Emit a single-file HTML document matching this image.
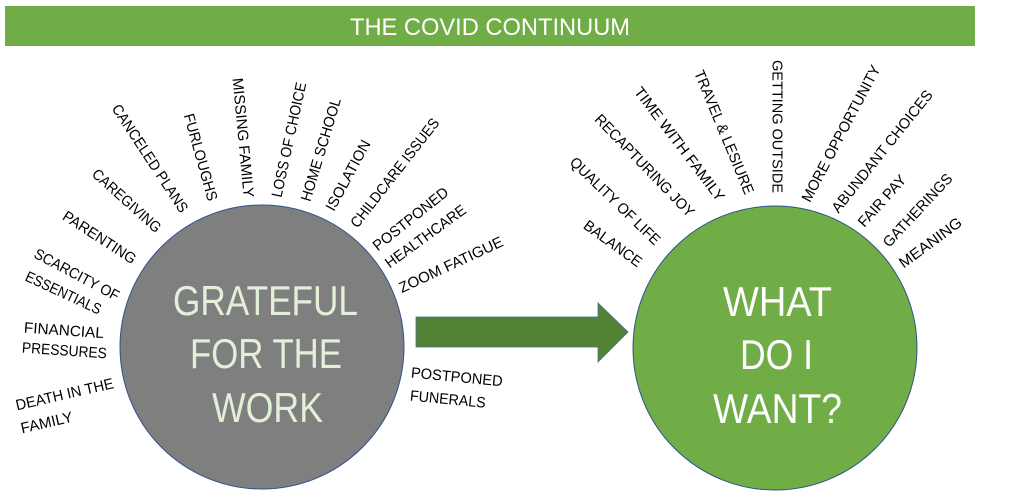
<!DOCTYPE html>
<html>
<head>
<meta charset="utf-8">
<style>
  html, body { margin: 0; padding: 0; background: #ffffff; }
  svg { display: block; }
  .lbl { font-family: "Liberation Sans", sans-serif; font-size: 15px; fill: #000; }
  .big { font-family: "Liberation Sans", sans-serif; font-size: 42px; }
</style>
</head>
<body>
<svg width="1023" height="491" viewBox="0 0 1023 491" xmlns="http://www.w3.org/2000/svg">
  <rect x="0" y="0" width="1023" height="491" fill="#ffffff"/>

  <!-- Title bar -->
  <rect x="5" y="6" width="970" height="40" fill="#70ad47"/>
  <text x="350" y="35" font-family="Liberation Sans, sans-serif" font-size="24" fill="#ffffff" textLength="280" lengthAdjust="spacingAndGlyphs">THE COVID CONTINUUM</text>

  <!-- Left circle -->
  <circle cx="262" cy="347" r="142" fill="#7f7f7f" stroke="#2f528f" stroke-width="1"/>
  <g class="big" fill="#e2f0d9">
    <text x="173" y="315" textLength="185" lengthAdjust="spacingAndGlyphs">GRATEFUL</text>
    <text x="190" y="368" textLength="152" lengthAdjust="spacingAndGlyphs">FOR THE</text>
    <text x="212" y="422" textLength="111" lengthAdjust="spacingAndGlyphs">WORK</text>
  </g>

  <!-- Right circle -->
  <circle cx="775" cy="348" r="142" fill="#70ad47" stroke="#2f528f" stroke-width="1"/>
  <g class="big" fill="#ffffff">
    <text x="723" y="316" textLength="109" lengthAdjust="spacingAndGlyphs">WHAT</text>
    <text x="740" y="369" textLength="73" lengthAdjust="spacingAndGlyphs">DO I</text>
    <text x="713" y="423" textLength="129" lengthAdjust="spacingAndGlyphs">WANT?</text>
  </g>

  <!-- Arrow -->
  <polygon points="416,317 598,317 598,303 628,332 598,362 598,347 416,347" fill="#548235" stroke="#41719c" stroke-width="0.8"/>

  <!-- Left circle labels: inward -->
  <g class="lbl" dominant-baseline="central">
    <text transform="translate(237,78) rotate(84.6)" textLength="120" lengthAdjust="spacingAndGlyphs">MISSING FAMILY</text>
    <text transform="translate(188,114) rotate(74.3)" textLength="90" lengthAdjust="spacingAndGlyphs">FURLOUGHS</text>
    <text transform="translate(115,106) rotate(56.7)" textLength="126" lengthAdjust="spacingAndGlyphs">CANCELED PLANS</text>
    <text transform="translate(94,172) rotate(42)" textLength="87" lengthAdjust="spacingAndGlyphs">CAREGIVING</text>
    <text transform="translate(64,215) rotate(33)" textLength="84" lengthAdjust="spacingAndGlyphs">PARENTING</text>
    <text transform="translate(35,253) rotate(28)" textLength="94" lengthAdjust="spacingAndGlyphs">SCARCITY OF</text>
    <text transform="translate(26,276) rotate(25)" textLength="82" lengthAdjust="spacingAndGlyphs">ESSENTIALS</text>
    <text transform="translate(24,328) rotate(4)" textLength="80" lengthAdjust="spacingAndGlyphs">FINANCIAL</text>
    <text transform="translate(22,348) rotate(4)" textLength="85" lengthAdjust="spacingAndGlyphs">PRESSURES</text>
    <text transform="translate(16,406) rotate(-13)" textLength="100" lengthAdjust="spacingAndGlyphs">DEATH IN THE</text>
    <text transform="translate(21,429) rotate(-13)" textLength="53" lengthAdjust="spacingAndGlyphs">FAMILY</text>

    <!-- Left circle labels: outward -->
    <text transform="translate(277,197) rotate(-77.7)" textLength="117" lengthAdjust="spacingAndGlyphs">LOSS OF CHOICE</text>
    <text transform="translate(306,201) rotate(-73.3)" textLength="107" lengthAdjust="spacingAndGlyphs">HOME SCHOOL</text>
    <text transform="translate(330,210) rotate(-61.7)" textLength="78" lengthAdjust="spacingAndGlyphs">ISOLATION</text>
    <text transform="translate(354,226) rotate(-52)" textLength="134" lengthAdjust="spacingAndGlyphs">CHILDCARE ISSUES</text>
    <text transform="translate(375,248) rotate(-38.6)" textLength="92" lengthAdjust="spacingAndGlyphs">POSTPONED</text>
    <text transform="translate(387,265) rotate(-36)" textLength="96" lengthAdjust="spacingAndGlyphs">HEALTHCARE</text>
    <text transform="translate(400,289) rotate(-25)" textLength="113" lengthAdjust="spacingAndGlyphs">ZOOM FATIGUE</text>
    <text transform="translate(411,373) rotate(5.5)" textLength="92" lengthAdjust="spacingAndGlyphs">POSTPONED</text>
    <text transform="translate(410,396) rotate(5.5)" textLength="76" lengthAdjust="spacingAndGlyphs">FUNERALS</text>

    <!-- Right circle labels: inward -->
    <text transform="translate(585,224) rotate(36)" textLength="68" lengthAdjust="spacingAndGlyphs">BALANCE</text>
    <text transform="translate(572,160) rotate(44)" textLength="119" lengthAdjust="spacingAndGlyphs">QUALITY OF LIFE</text>
    <text transform="translate(597,117) rotate(46)" textLength="136" lengthAdjust="spacingAndGlyphs">RECAPTURING JOY</text>
    <text transform="translate(637,89) rotate(52.8)" textLength="139" lengthAdjust="spacingAndGlyphs">TIME WITH FAMILY</text>
    <text transform="translate(698,71) rotate(67.4)" textLength="133" lengthAdjust="spacingAndGlyphs">TRAVEL &amp; LESIURE</text>
    <text transform="translate(777,60) rotate(90)" textLength="133" lengthAdjust="spacingAndGlyphs">GETTING OUTSIDE</text>

    <!-- Right circle labels: outward -->
    <text transform="translate(806,201) rotate(-62.2)" textLength="152" lengthAdjust="spacingAndGlyphs">MORE OPPORTUNITY</text>
    <text transform="translate(835,211) rotate(-51.3)" textLength="152" lengthAdjust="spacingAndGlyphs">ABUNDANT CHOICES</text>
    <text transform="translate(861,225) rotate(-48)" textLength="64" lengthAdjust="spacingAndGlyphs">FAIR PAY</text>
    <text transform="translate(886,245) rotate(-47)" textLength="94" lengthAdjust="spacingAndGlyphs">GATHERINGS</text>
    <text transform="translate(901,265) rotate(-36.4)" textLength="74" lengthAdjust="spacingAndGlyphs">MEANING</text>
  </g>
</svg>
</body>
</html>
